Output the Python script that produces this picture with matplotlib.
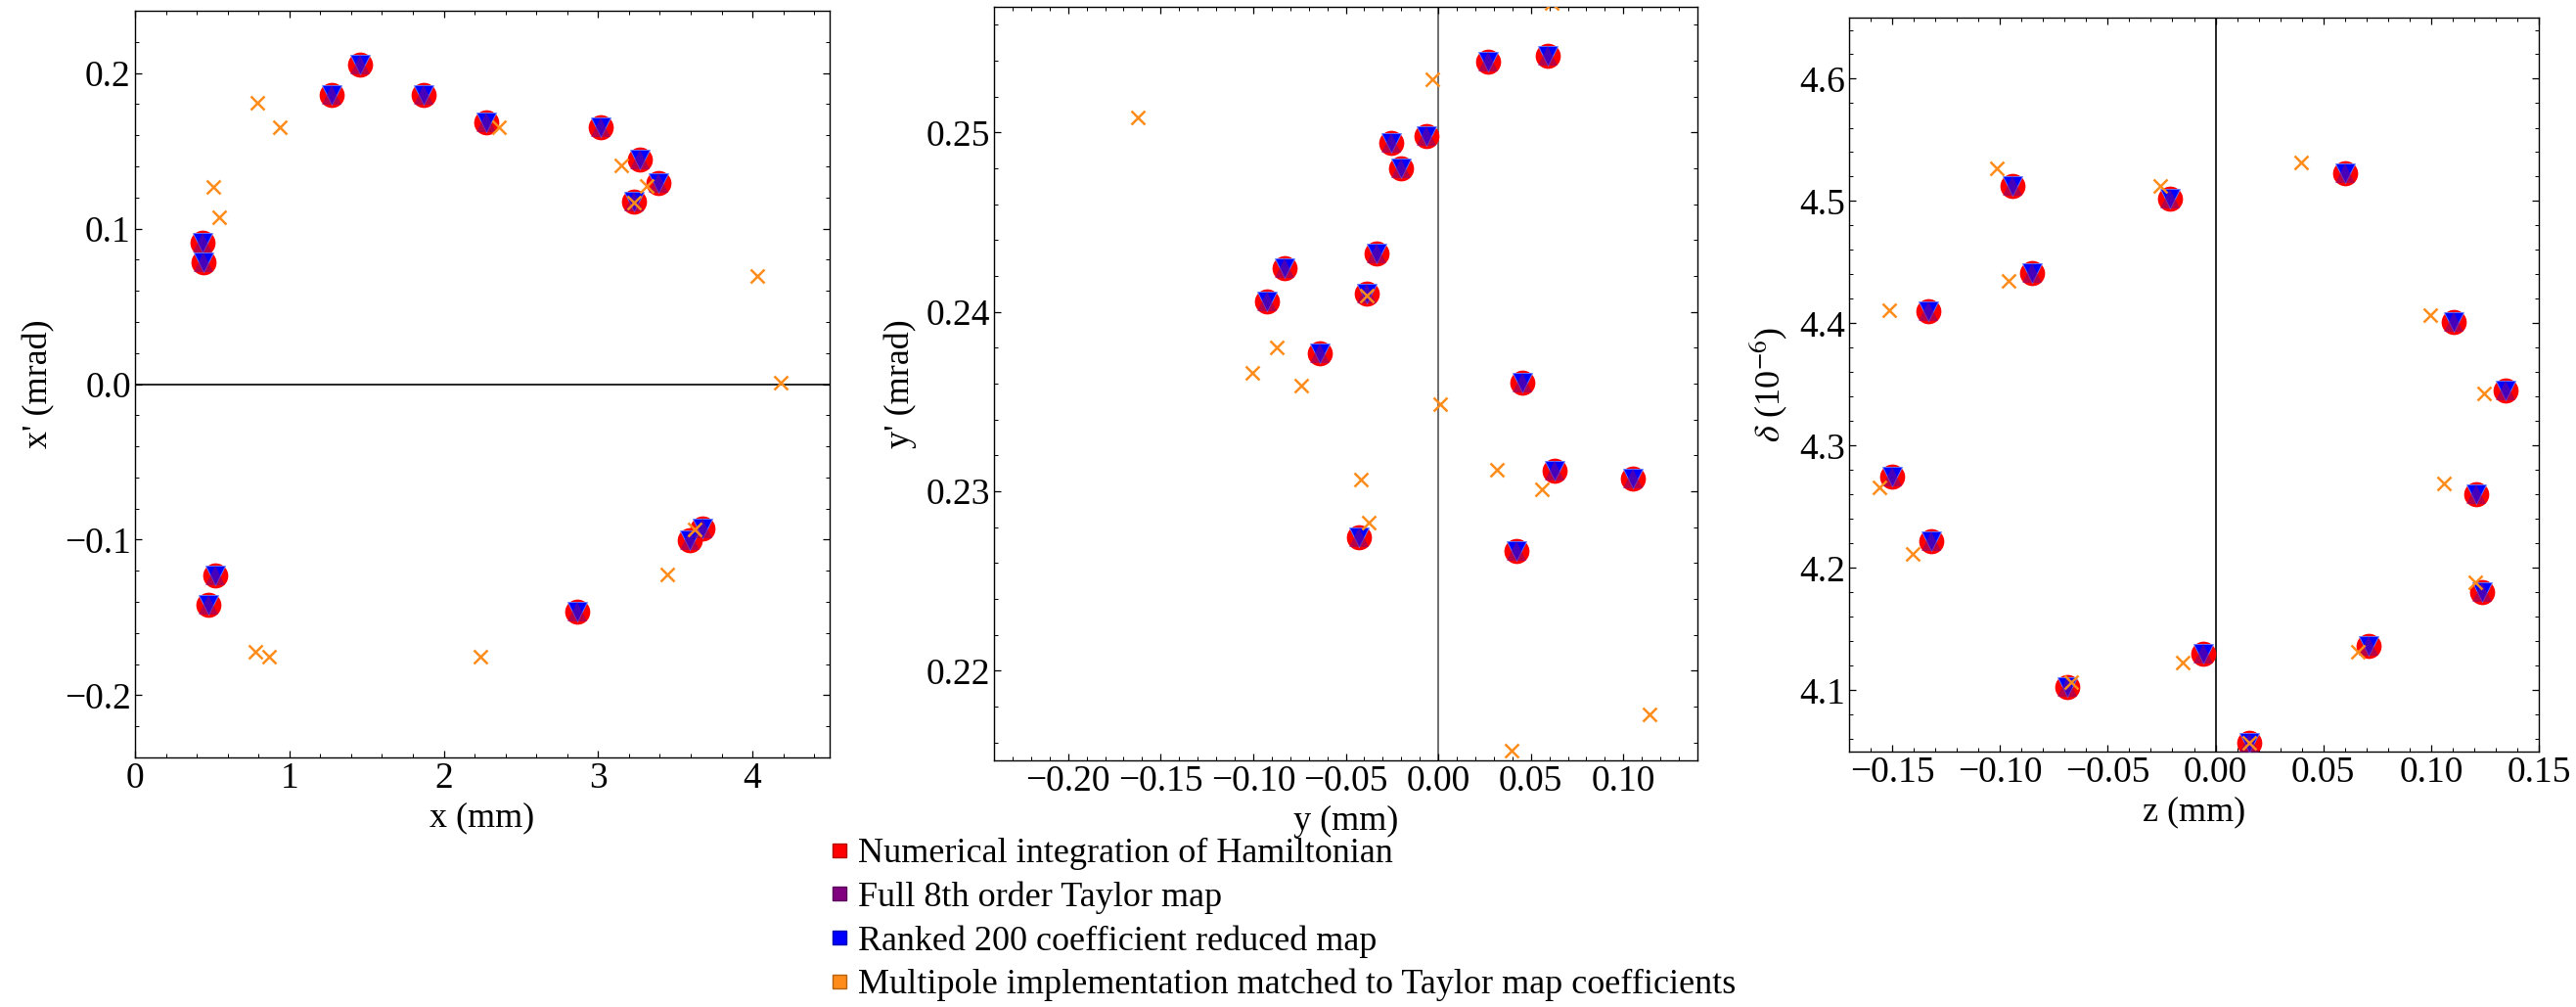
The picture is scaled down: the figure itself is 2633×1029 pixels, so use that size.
import matplotlib
matplotlib.use("Agg")
import matplotlib.pyplot as plt
from matplotlib.lines import Line2D
from matplotlib.ticker import MultipleLocator

plt.rcParams['font.family'] = ['Liberation Serif', 'DejaVu Serif']
plt.rcParams['mathtext.fontset'] = 'stix'

# x - x' plane (mm, mrad)
ham_x1 = [0.435, 0.442, 1.457, 1.277, 1.867, 2.277, 3.014, 3.273, 3.388, 3.234, 0.518, 0.475, 2.863, 3.594, 3.676]
ham_xp1 = [0.0907, 0.0782, 0.2057, 0.186, 0.186, 0.168, 0.1654, 0.1443, 0.129, 0.1175, -0.1232, -0.1421, -0.1464, -0.1004, -0.0929]
mult_x1 = [0.791, 0.935, 0.507, 0.547, 2.360, 3.147, 3.313, 3.234, 4.029, 4.180, 3.626, 3.446, 2.237, 0.777, 0.871]
mult_xp1 = [0.1807, 0.165, 0.1268, 0.1071, 0.1654, 0.1404, 0.1271, 0.1164, 0.0693, 0.0011, -0.0932, -0.1225, -0.1754, -0.1718, -0.1754]

# y - y' plane
ham_x2 = [0.0268, 0.0593, -0.0253, -0.0066, -0.0202, -0.0334, -0.0831, -0.0927, -0.0385, -0.0638, 0.0454, 0.0626, 0.1053, -0.0427, 0.0421]
ham_xp2 = [0.25394, 0.25428, 0.24944, 0.24981, 0.24799, 0.24327, 0.24244, 0.24058, 0.24101, 0.23770, 0.23605, 0.23116, 0.23069, 0.22741, 0.22669]
mult_x2 = [-0.1625, -0.0033, 0.0611, -0.0385, -0.0870, -0.1005, -0.0743, 0.0009, -0.0418, -0.0376, 0.0316, 0.0560, 0.1141, 0.0397]
mult_xp2 = [0.25084, 0.25294, 0.2572, 0.24092, 0.23801, 0.23661, 0.23590, 0.23485, 0.23063, 0.22827, 0.23122, 0.23013, 0.21755, 0.21554]

# z - delta plane
ham_x3 = [-0.0943, -0.0211, -0.0851, -0.1332, -0.1500, -0.1317, -0.0686, -0.0057, 0.0155, 0.0601, 0.1103, 0.1345, 0.1211, 0.1237, 0.0709]
ham_xp3 = [4.5124, 4.5019, 4.4415, 4.4102, 4.2748, 4.2222, 4.1027, 4.1304, 4.0569, 4.5228, 4.4011, 4.3452, 4.2603, 4.1804, 4.1368]
mult_x3 = [-0.1015, -0.0258, -0.0961, -0.1513, -0.1559, -0.1405, -0.0670, -0.0152, 0.0155, 0.0399, 0.0997, 0.1247, 0.1059, 0.1204, 0.0662]
mult_xp3 = [4.5269, 4.5124, 4.4347, 4.4106, 4.2662, 4.2113, 4.1068, 4.1227, 4.0569, 4.5314, 4.4065, 4.3430, 4.2694, 4.1881, 4.1313]

# taylor map and reduced map sit on top of the integration points at this scale
taylor_x = [ham_x1, ham_x2, ham_x3]
taylor_xp = [ham_xp1, ham_xp2, ham_xp3]
ranked_x = [ham_x1, ham_x2, ham_x3]
ranked_xp = [ham_xp1, ham_xp2, ham_xp3]

labels = ["Numerical integration of Hamiltonian",
          "Full 8th order Taylor map",
          "Ranked 200 coefficient reduced map",
          "Multipole implementation matched to Taylor map coefficients"]

RED = (1, 0, 0)
PURPLE = (0.5, 0, 0.5)
BLUE = (0, 0, 1)
ORANGE = (1, 0.55, 0.1)

W, H = 2633, 1029
fig = plt.figure(figsize=(W / 100, H / 100), dpi=100)

# axes boxes in pixels: left, right, top, bottom
boxes = [(138, 848, 11, 774), (1016, 1735, 7, 777), (1890, 2595, 18, 768)]
xlims = [(0, 4.5), (-0.24, 0.14), (-0.17, 0.15)]
ylims = [(-0.24, 0.24), (0.215, 0.257), (4.05, 4.65)]
xmaj = [1, 0.05, 0.05]
xmin = [0.2, 0.01, 0.01]
ymaj = [0.1, 0.01, 0.1]
ymin = [0.02, 0.002, 0.02]
xlabels = ["x (mm)", "y (mm)", "z (mm)"]
ylabels = ["x' (mrad)", "y' (mrad)", r"$\delta$ (10$^{-6}$)"]
xfmt = ["{:.0f}", "{:.2f}", "{:.2f}"]
yfmt = ["{:.1f}", "{:.2f}", "{:.1f}"]
hx = [ham_x1, ham_x2, ham_x3]
hy = [ham_xp1, ham_xp2, ham_xp3]
mx = [mult_x1, mult_x2, mult_x3]
my = [mult_xp1, mult_xp2, mult_xp3]

for i in range(3):
    l, r, t, b = boxes[i]
    ax = fig.add_axes([l / W, (H - b) / H, (r - l) / W, (b - t) / H])
    ax.set_xlim(*xlims[i])
    ax.set_ylim(*ylims[i])

    if i == 0:
        ax.axhline(0, color='black', lw=1.2, zorder=1)
    else:
        ax.axvline(0, color='#555555' if i == 1 else 'black', lw=1.2, zorder=1)

    ax.plot(hx[i], hy[i], 'o', color=RED, ms=18.5, mew=0, zorder=2)
    ax.plot(ranked_x[i], ranked_xp[i], 'v', color=BLUE, ms=15, mew=0.6, mec=(0.4, 0.5, 1), zorder=3)
    ax.plot(taylor_x[i], taylor_xp[i], '^', color=PURPLE, ms=15, mew=0, alpha=0.55, zorder=4)
    ax.plot(mx[i], my[i], 'x', color=ORANGE, ms=10.5, mew=1.8, zorder=5)

    ax.xaxis.set_major_locator(MultipleLocator(xmaj[i]))
    ax.xaxis.set_minor_locator(MultipleLocator(xmin[i]))
    ax.yaxis.set_major_locator(MultipleLocator(ymaj[i]))
    ax.yaxis.set_minor_locator(MultipleLocator(ymin[i]))
    fx, fy = xfmt[i], yfmt[i]
    ax.xaxis.set_major_formatter(lambda v, p, f=fx: f.format(v).replace('-', '\u2212'))
    ax.yaxis.set_major_formatter(lambda v, p, f=fy: f.format(v).replace('-', '\u2212'))

    ax.tick_params(which='both', direction='in', top=True, right=True, labelsize=27, pad=3)
    ax.tick_params(which='major', length=5, width=0.9)
    ax.tick_params(which='minor', length=2.8, width=0.7)
    for s in ax.spines.values():
        s.set_linewidth(1.0)

    ax.set_xlabel(xlabels[i], fontsize=26, labelpad=5)
    ax.set_ylabel(ylabels[i], fontsize=26, labelpad=7)

handles = [Line2D([], [], marker='s', ls='none', ms=9.5, color=c, mec=tuple(0.7 * v for v in c), mew=1)
           for c in [RED, PURPLE, BLUE, ORANGE]]
fig.legend(handles, labels, loc='upper left', bbox_to_anchor=(849 / W, 1 - 856 / H),
           frameon=False, fontsize=26, handlelength=0.5, handletextpad=0.28,
           labelspacing=0.31, borderpad=0, borderaxespad=0)

fig.savefig("out.png", dpi=100)
